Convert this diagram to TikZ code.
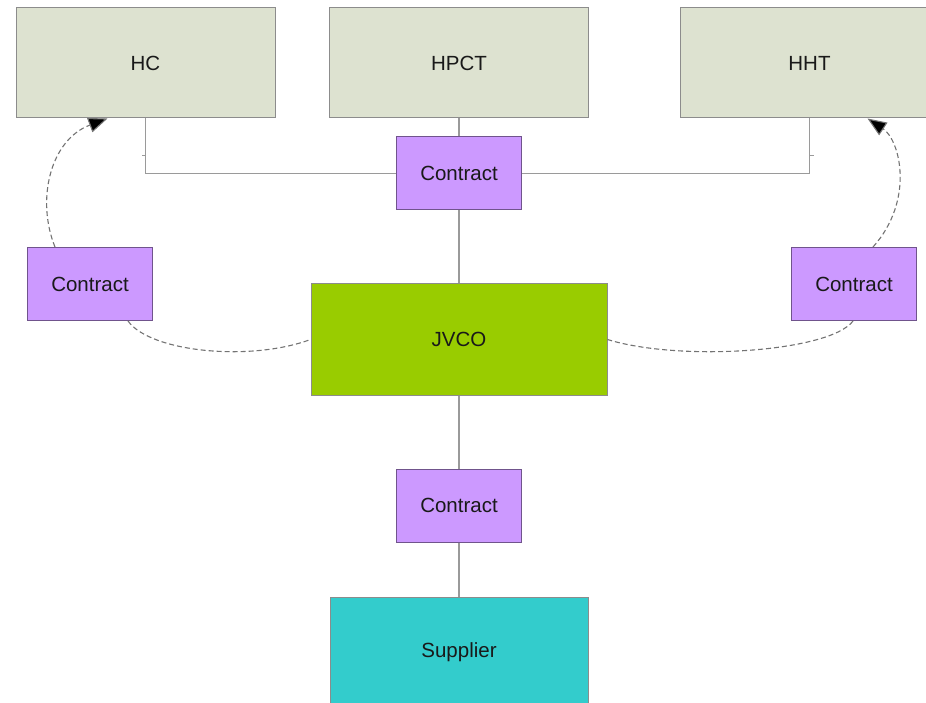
\documentclass[tikz,border=0pt]{standalone}
\usepackage{fontspec}
\setmainfont{Liberation Sans}
\usetikzlibrary{arrows.meta}
\definecolor{partyfill}{HTML}{DDE2D0}
\definecolor{contractfill}{HTML}{CC99FF}
\definecolor{jvfill}{HTML}{99CC00}
\definecolor{supfill}{HTML}{33CCCC}
\definecolor{edgegray}{HTML}{8C8C8C}
\definecolor{linegray}{HTML}{9A9A9A}
\begin{document}
\begin{tikzpicture}[x=1pt,y=-1pt,
  box/.style={draw=edgegray, line width=1pt, inner sep=0pt, font=\fontsize{20.5}{24}\selectfont, text=black!90},
  party/.style={box, fill=partyfill, minimum width=259pt, minimum height=110pt},
  contractbox/.style={box, fill=contractfill, draw=black!45!contractfill, minimum width=125pt, minimum height=73pt},
  link/.style={draw=linegray, line width=1.3pt},
  flow/.style={draw=black!55, line width=1.1pt, dash pattern=on 5pt off 3pt, -{Triangle[length=19pt,width=15pt,fill=black]}},
  flowplain/.style={draw=black!55, line width=1.1pt, dash pattern=on 5pt off 3pt}
]
\useasboundingbox (0,0) rectangle (926,703);
\node[party] (hc) at (145.5,63) {HC};
\node[party] (hpct) at (459,63) {HPCT};
\node[party] (hht) at (809.5,63) {HHT};
\node[contractbox] (cc) at (459,173.5) {Contract};
\node[contractbox] (lc) at (90,284) {Contract};
\node[contractbox] (rc) at (854,284) {Contract};
\node[box, fill=jvfill, minimum width=296pt, minimum height=111pt] (jv) at (459,339.5) {JVCO};
\node[contractbox] (bc) at (459,505.5) {Contract};
\node[box, fill=supfill, minimum width=258pt, minimum height=110pt] (sup) at (459,652) {Supplier};

\draw[link] (hpct.south) -- (cc.north);
\draw[link] (cc.west) -| (hc.south);
\draw[link] (cc.east) -| (hht.south);
\draw[link] (cc.south) -- (jv.north);
\draw[link] (jv.south) -- (bc.north);
\draw[link] (bc.south) -- (sup.north);
\coordinate (lt) at ([yshift=-37pt]hc.south);
\coordinate (rt) at ([yshift=-37pt]hht.south);
\draw[draw=linegray, line width=0.8pt] (lt) -- ++(-4,0);
\draw[draw=linegray, line width=0.8pt] (rt) -- ++(4,0);

\draw[flow] ([xshift=-35pt]lc.north) .. controls (36,200) and (50,140) .. ([xshift=-38pt]hc.south);
\draw[flowplain] ([xshift=38pt]lc.south) .. controls (150,352) and (250,362) .. (jv.west);
\draw[flow] ([xshift=19pt]rc.north) .. controls (915,200) and (900,140) .. ([xshift=58pt]hht.south);
\draw[flowplain] ([xshift=-1pt]rc.south) .. controls (830,352) and (680,362) .. (jv.east);
\end{tikzpicture}
\end{document}
